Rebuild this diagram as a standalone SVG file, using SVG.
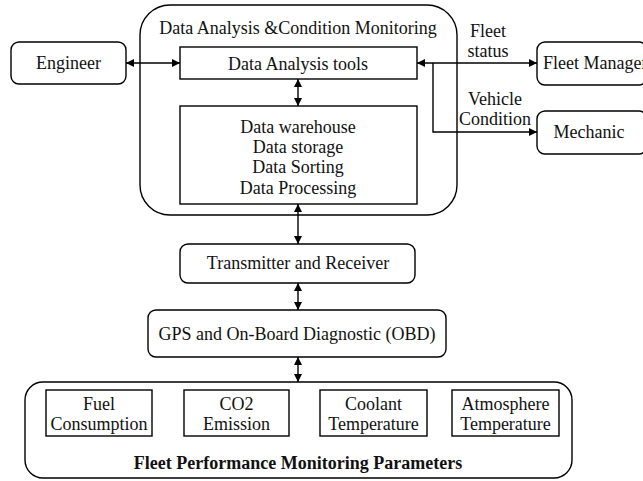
<svg xmlns="http://www.w3.org/2000/svg" width="643" height="481" viewBox="0 0 643 481" font-family="Liberation Serif, Times New Roman, Tinos, serif">
<style>
  .box { fill: #fff; stroke: #000; stroke-width: 1.4; }
  text { font-family: "Liberation Serif", "Times New Roman", Tinos, serif; }
  .t { font-size: 18px; fill: #111; text-anchor: middle; }
  .b { font-weight: bold; }
  .c { fill: none; stroke: #000; stroke-width: 1.4; }
</style>
<defs>
  <marker id="ah" viewBox="0 0 10 10" refX="10" refY="5" markerWidth="9" markerHeight="8" markerUnits="userSpaceOnUse" orient="auto-start-reverse">
    <path d="M0,0 L10,5 L0,10 z" fill="#000"/>
  </marker>
</defs>
<rect width="643" height="481" fill="#fff"/>

<g id="dacm">
  <rect class="box" x="140" y="5" width="317" height="210" rx="30"/>
  <text class="t" x="298" y="34">Data Analysis &amp;Condition Monitoring</text>
</g>
<g id="engineer">
  <rect class="box" x="11" y="42" width="115" height="42" rx="8"/>
  <text class="t" x="68.5" y="69">Engineer</text>
</g>
<g id="tools">
  <rect class="box" x="180" y="47" width="237" height="32"/>
  <text class="t" x="298" y="70">Data Analysis tools</text>
</g>
<g id="warehouse">
  <rect class="box" x="180" y="106" width="237" height="98"/>
  <text class="t" x="298" y="133">Data warehouse</text>
  <text class="t" x="298" y="153">Data storage</text>
  <text class="t" x="298" y="173">Data Sorting</text>
  <text class="t" x="298" y="194">Data Processing</text>
</g>
<g id="fleetmanager">
  <rect class="box" x="537" y="42" width="110" height="43" rx="8"/>
  <text class="t" x="543" y="69" style="text-anchor:start">Fleet Manager</text>
</g>
<g id="mechanic">
  <rect class="box" x="537" y="111" width="110" height="43" rx="8"/>
  <text class="t" x="589" y="138">Mechanic</text>
</g>
<g id="transmitter">
  <rect class="box" x="180" y="244" width="235" height="39" rx="8"/>
  <text class="t" x="298" y="269">Transmitter and Receiver</text>
</g>
<g id="gps">
  <rect class="box" x="148" y="310" width="298" height="47" rx="8"/>
  <text class="t" x="297" y="340">GPS and On-Board Diagnostic (OBD)</text>
</g>
<g id="params">
  <rect class="box" x="25" y="382" width="547" height="96" rx="18"/>
  <text class="t b" x="298" y="469">Fleet Performance Monitoring Parameters</text>
</g>
<g id="fuel">
  <rect class="box" x="46" y="390" width="106" height="46"/>
  <text class="t" x="99" y="410">Fuel</text>
  <text class="t" x="99" y="430">Consumption</text>
</g>
<g id="co2">
  <rect class="box" x="184" y="390" width="105" height="46"/>
  <text class="t" x="236.5" y="410">CO2</text>
  <text class="t" x="236.5" y="430">Emission</text>
</g>
<g id="coolant">
  <rect class="box" x="320" y="390" width="107" height="46"/>
  <text class="t" x="373.5" y="410">Coolant</text>
  <text class="t" x="373.5" y="430">Temperature</text>
</g>
<g id="atmosphere">
  <rect class="box" x="452" y="390" width="107" height="46"/>
  <text class="t" x="505.5" y="410">Atmosphere</text>
  <text class="t" x="505.5" y="430">Temperature</text>
</g>

<g id="connectors">
  <line class="c" x1="126" y1="63" x2="180" y2="63" marker-start="url(#ah)" marker-end="url(#ah)"/>
  <line class="c" x1="298" y1="79" x2="298" y2="106" marker-start="url(#ah)" marker-end="url(#ah)"/>
  <line class="c" x1="298" y1="204" x2="298" y2="244" marker-start="url(#ah)" marker-end="url(#ah)"/>
  <line class="c" x1="298" y1="283" x2="298" y2="310" marker-start="url(#ah)" marker-end="url(#ah)"/>
  <line class="c" x1="298" y1="357" x2="298" y2="382" marker-start="url(#ah)" marker-end="url(#ah)"/>
  <line class="c" x1="417" y1="63" x2="537" y2="63" marker-start="url(#ah)" marker-end="url(#ah)"/>
  <path class="c" d="M433,63 V132 H537" marker-end="url(#ah)"/>
  <text class="t" x="488" y="37">Fleet</text>
  <text class="t" x="488" y="57">status</text>
  <text class="t" x="495" y="105">Vehicle</text>
  <text class="t" x="495" y="125">Condition</text>
</g>
</svg>
